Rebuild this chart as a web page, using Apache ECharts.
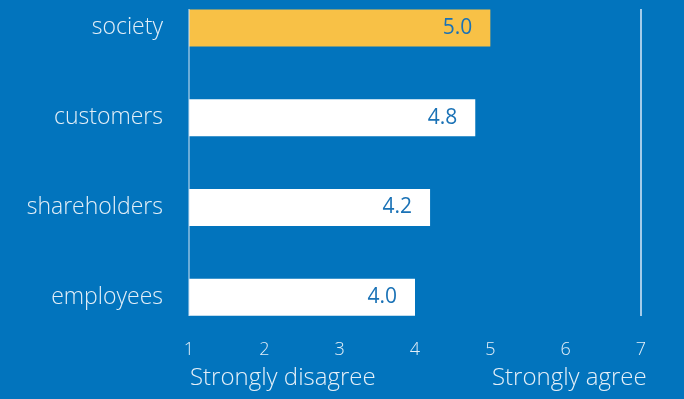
<!DOCTYPE html>
<html>
<head>
<meta charset="utf-8">
<script src="https://cdn.jsdelivr.net/npm/echarts@6/dist/echarts.min.js"></script>
<style>
  html, body { margin: 0; padding: 0; background: #0274bd; overflow: hidden; }
  /* the canvas starts a little above the page so the top row's band can overhang the edge */
  #chart { position: relative; top: -17px; width: 684px; height: 416px; }
</style>
</head>
<body>
<div id="chart"></div>
<script>
// Stakeholder ratings on a 1–7 agreement scale
const categories = ['society', 'customers', 'shareholders', 'employees'];
const scores = [5.0, 4.8, 4.2, 4.0];
const barColors = ['#f8c146', '#ffffff', '#ffffff', '#ffffff'];
const scaleTicks = [1, 2, 3, 4, 5, 6, 7];
const scaleEnds = ['Strongly disagree', 'Strongly agree'];
// the two frame lines at the ends of the scale
const frameLines = [scaleTicks[0], scaleTicks[scaleTicks.length - 1]];

const FONT = '"Open Sans", "Noto Sans", sans-serif';
const TEXT = '#e4eff8';
const SHIFT = 17;
const LEFT = 189, RIGHT = 684 - 641;

const chart = echarts.init(document.getElementById('chart'));
chart.setOption({
  backgroundColor: '#0274bd',
  animation: false,
  grid: [
    { left: LEFT, right: RIGHT, top: 0, height: 359, containLabel: false },
    { left: LEFT, right: RIGHT, top: 9 + SHIFT, height: 307, containLabel: false }
  ],
  xAxis: [
    {
      type: 'value', gridIndex: 0,
      min: scaleTicks[0], max: scaleTicks[scaleTicks.length - 1], interval: 1,
      position: 'bottom', offset: 0,
      axisLine: { show: false }, axisTick: { show: false }, splitLine: { show: false },
      axisLabel: {
        color: TEXT, fontFamily: FONT, fontSize: 18, fontWeight: 300, margin: -1,
        formatter: v => scaleTicks.includes(v) ? String(v) : ''
      }
    },
    {
      type: 'value', gridIndex: 1,
      min: scaleTicks[0], max: scaleTicks[scaleTicks.length - 1],
      show: false
    }
  ],
  yAxis: [
    {
      type: 'category', gridIndex: 0, data: categories, inverse: true,
      axisLine: { show: false }, axisTick: { show: false }, splitLine: { show: false },
      axisLabel: { color: TEXT, fontFamily: FONT, fontSize: 23, fontWeight: 300, margin: 26 }
    },
    { type: 'value', gridIndex: 1, min: 0, max: 1, show: false }
  ],
  series: [
    {
      type: 'bar', xAxisIndex: 0, yAxisIndex: 0,
      barWidth: 37,
      data: scores.map((v, i) => ({ value: v, itemStyle: { color: barColors[i] } })),
      label: {
        show: true, position: 'insideRight', distance: 18,
        color: '#1a72b6', fontFamily: FONT, fontSize: 21, fontWeight: 400,
        formatter: p => p.value.toFixed(1)
      }
    },
    {
      type: 'line', xAxisIndex: 1, yAxisIndex: 1, symbol: 'none',
      data: [[frameLines[0], 0], [frameLines[0], 1]],
      lineStyle: { color: '#d2e5f4', width: 1 }
    },
    {
      type: 'line', xAxisIndex: 1, yAxisIndex: 1, symbol: 'none',
      data: [[frameLines[1], 0], [frameLines[1], 1]],
      lineStyle: { color: '#a3cbea', width: 2 }
    }
  ],
  graphic: [
    {
      type: 'text', left: 190, top: 366 + SHIFT,
      style: { text: scaleEnds[0], fill: TEXT, font: '300 24px ' + FONT }
    },
    {
      type: 'text', left: 492, top: 366 + SHIFT,
      style: { text: scaleEnds[1], fill: TEXT, font: '300 24px ' + FONT }
    }
  ]
});
</script>
</body>
</html>
